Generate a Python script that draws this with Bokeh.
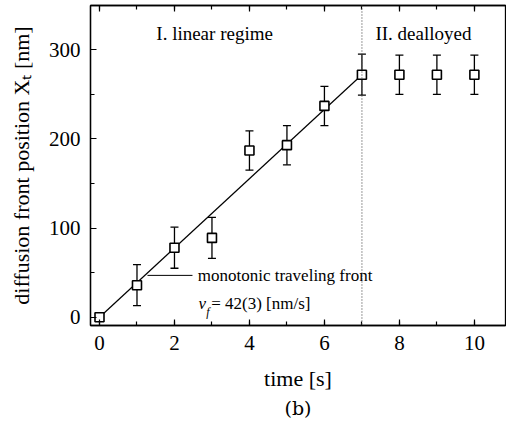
from bokeh.plotting import figure
from bokeh.models import (ColumnDataSource, Whisker, TeeHead, Span, Label, LinearAxis,
                          Range1d, FixedTicker, CustomJSTickFormatter, Title)
from bokeh.embed import file_html
from bokeh.resources import INLINE

# ---- data ----
time_s = [0, 1, 2, 3, 4, 5, 6, 7, 8, 9, 10]
front_nm = [0, 36, 78, 89, 187, 193, 237, 272, 272, 272, 272]
err_nm = [0, 23, 23, 23, 22, 22, 22, 23, 22, 22, 22]
fit_x = [0, 7]
fit_y = [0, 272]
regime_boundary = 7
x_ticks = [0, 2, 4, 6, 8, 10]
y_ticks = [0, 100, 200, 300]

SERIF = "Liberation Serif, Times New Roman, serif"

src = ColumnDataSource(dict(
    x=time_s, y=front_nm,
    upper=[v + e for v, e in zip(front_nm, err_nm)],
    lower=[v - e for v, e in zip(front_nm, err_nm)],
))

p = figure(width=506, height=426, output_backend="svg", toolbar_location=None,
           x_range=Range1d(-0.24, 10.83), y_range=Range1d(-9.2, 349.6),
           min_border_left=90, min_border_right=1, min_border_top=5, min_border_bottom=101)
p.grid.visible = False
p.outline_line_color = "black"
p.outline_line_width = 1.3
p.background_fill_color = "white"
p.border_fill_color = "white"

# fit line
p.line(fit_x, fit_y, line_color="black", line_width=1.2)

# regime boundary
p.add_layout(Span(location=regime_boundary, dimension="height", line_color="#555555",
                  line_dash="1 2", line_width=1.2))

# error bars
wh = Whisker(base="x", upper="upper", lower="lower", source=src, line_color="black",
             line_width=1.3,
             upper_head=TeeHead(size=8, line_color="black", line_width=1.3),
             lower_head=TeeHead(size=8, line_color="black", line_width=1.3))
wh.level = "underlay"
p.add_layout(wh)

p.scatter("x", "y", source=src, marker="square", size=9, fill_color="white",
          line_color="black", line_width=1.6)

# annotation
ann_x = [1.28, 2.48]
ann_y = [47, 47]
p.segment(x0=[ann_x[0]], y0=[ann_y[0]], x1=[ann_x[1]], y1=[ann_y[1]],
          line_color="black", line_width=1)
p.add_layout(Label(x=2.62, y=47, text="monotonic traveling front", text_font=SERIF,
                   text_font_size="17px", text_baseline="middle", text_color="black"))
p.add_layout(Label(x=2.64, y=15, text="v", text_font=SERIF, text_font_style="italic",
                   text_font_size="17px", text_baseline="middle", text_color="black"))
p.add_layout(Label(x=2.85, y=6, text="f", text_font=SERIF, text_font_style="italic",
                   text_font_size="12px", text_baseline="middle", text_color="black"))
p.add_layout(Label(x=2.98, y=15, text="= 42(3) [nm/s]", text_font=SERIF,
                   text_font_size="17px", text_baseline="middle", text_color="black"))

p.add_layout(Label(x=3.07, y=318, text="I. linear regime", text_font=SERIF,
                   text_font_size="19px", text_baseline="middle", text_align="center",
                   text_color="black"))
p.add_layout(Label(x=8.64, y=318, text="II. dealloyed", text_font=SERIF,
                   text_font_size="19px", text_baseline="middle", text_align="center",
                   text_color="black"))

def style_axis(ax):
    ax.axis_line_color = "black"
    ax.axis_line_width = 1.3
    ax.major_tick_in = 6
    ax.major_tick_out = 0
    ax.minor_tick_in = 4
    ax.minor_tick_out = 0
    ax.major_tick_line_color = "black"
    ax.minor_tick_line_color = "black"
    ax.major_tick_line_width = 1.2
    ax.minor_tick_line_width = 1.2
    ax.major_label_text_font = SERIF
    ax.major_label_text_font_size = "21px"
    ax.major_label_text_color = "black"
    ax.axis_label_text_font = SERIF
    ax.axis_label_text_font_size = "22px"
    ax.axis_label_text_font_style = "normal"
    ax.axis_label_text_color = "black"

xt = FixedTicker(ticks=x_ticks, minor_ticks=list(range(0, 11)))
yt = FixedTicker(ticks=y_ticks, minor_ticks=[0, 50, 100, 150, 200, 250, 300])

p.xaxis.ticker = xt
p.yaxis.ticker = yt
style_axis(p.xaxis[0])
style_axis(p.yaxis[0])
p.xaxis.axis_label = "time [s]"
p.yaxis.axis_label = "diffusion front position Xₜ [nm]"
p.xaxis.major_label_standoff = 10
p.yaxis.major_label_standoff = 10
p.xaxis.axis_label_standoff = 13
p.yaxis.axis_label_standoff = 12

top = LinearAxis(ticker=xt, formatter=CustomJSTickFormatter(code="return ''"))
style_axis(top)
top.major_label_standoff = 0
p.add_layout(top, "above")

# panel tag below the axis title
p.add_layout(Title(text="(b)", align="center", text_font="DejaVu Serif",
                   text_font_size="19px", text_font_style="normal", text_color="black",
                   standoff=2, offset=0), "below")

open("out.html", "w").write(file_html(p, INLINE))
